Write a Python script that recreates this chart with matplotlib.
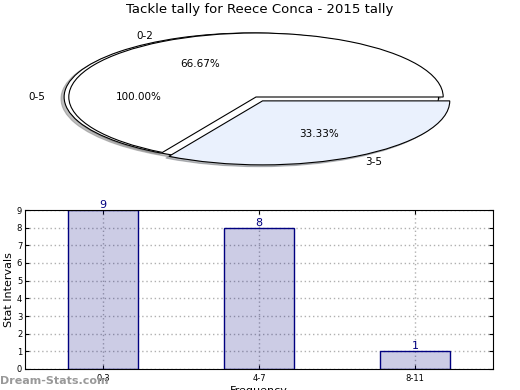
import matplotlib
matplotlib.use("Agg")
import matplotlib.pyplot as plt

title = "Tackle tally for Reece Conca - 2015 tally"

# outer pie: one interval covering everything
outer_labels = ["0-5"]
outer_values = [3]

# inner pie: split intervals
inner_labels = ["0-2", "3-5"]
inner_values = [2, 1]

# bar chart
bar_labels = ["0-3", "4-7", "8-11"]
bar_values = [9, 8, 1]

fig = plt.figure(figsize=(5.2, 3.9), dpi=100)

# --- pie (stretched into an ellipse) ---
ax1 = fig.add_axes([22 / 520, 1 - 177 / 390, 468 / 520, 160 / 390])
shadow = dict(ox=-0.012, oy=-0.02, shade=0.5)
ax1.pie(outer_values, labels=outer_labels, autopct="%1.2f%%", explode=[0.025],
        colors=["white"], shadow=shadow, startangle=0,
        wedgeprops=dict(edgecolor="black", linewidth=0.8),
        textprops=dict(fontsize=7.5))
ax1.pie(inner_values, labels=inner_labels, autopct="%1.2f%%", explode=[0, 0.07],
        colors=["white", "#eaf1fd"], shadow=shadow, startangle=0,
        wedgeprops=dict(edgecolor="black", linewidth=0.8),
        textprops=dict(fontsize=7.5))
ax1.set_aspect("auto")
ax1.set_xlim(-1.25, 1.25)
ax1.set_ylim(-1.25, 1.25)
fig.text(0.5, 1 - 10 / 390, title, ha="center", va="center", fontsize=9.5)

# --- bar chart ---
ax2 = fig.add_axes([25 / 520, 1 - 369 / 390, 468 / 520, 159 / 390])
pos = range(len(bar_values))
# translucent navy face so the grid shows through, solid navy edge
ax2.bar(pos, bar_values, width=0.45, facecolor=(0, 0, 0.5, 0.2),
        edgecolor="#000080", linewidth=1, zorder=3)
for x, v in zip(pos, bar_values):
    ax2.text(x, v, str(v), ha="center", va="bottom", color="#000080", fontsize=8)
ax2.set_xlim(-0.5, 2.5)
ax2.set_ylim(0, 9)
ax2.set_yticks(range(10))
ax2.set_xticks(list(pos))
ax2.set_xticklabels(bar_labels)
ax2.tick_params(direction="in", labelsize=6, length=3, top=True, right=True,
                colors="black")
ax2.tick_params(axis="y", pad=2)
ax2.set_axisbelow(True)
ax2.grid(True, linestyle=(0, (1, 2)), color="#b0b0b0", linewidth=1)
for sp in ax2.spines.values():
    sp.set_zorder(5)
ax2.set_ylabel("Stat Intervals", fontsize=8, labelpad=2)
ax2.set_xlabel("Frequency", fontsize=8, labelpad=2)

fig.text(0.0, 1 - 381 / 390, "Dream-Stats.com", ha="left", va="center",
         fontsize=8, color="#999999", fontweight="bold")

plt.savefig("out.png", dpi=100)
